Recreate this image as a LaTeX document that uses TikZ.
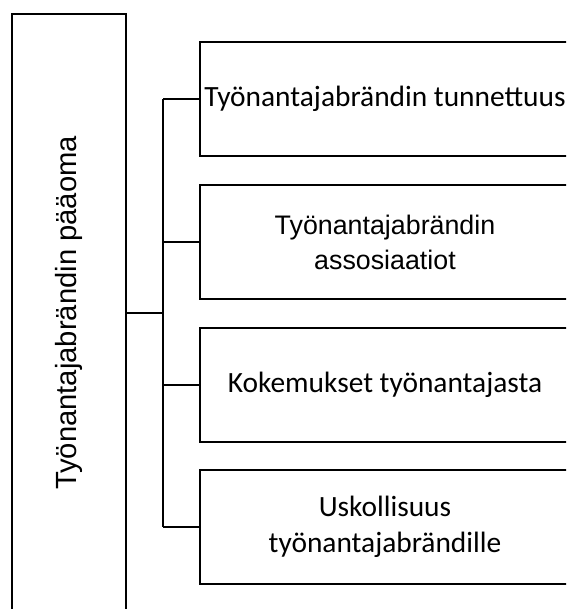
\documentclass[tikz,border=0pt]{standalone}
\usepackage{fontspec}
\setmainfont{Carlito}
\newfontfamily\arial{Liberation Sans}
\usepackage{tikz}

\tikzset{
  box/.style={draw, line width=1.9pt, minimum width=370pt, minimum height=114pt,
    inner sep=0pt, align=center},
  calibri/.style={font=\fontsize{29.4}{36.5}\selectfont},
  arialtxt/.style={font=\arial\fontsize{26.8}{35}\selectfont},
  link/.style={line width=1.9pt, color=black}
}

\begin{document}
\begin{tikzpicture}[x=1pt,y=-1pt]
%\draw[help lines] (0,0) grid (566,609);
\useasboundingbox (0,0) rectangle (566,609);
\clip (0,0) rectangle (566,609);

\node[draw, line width=1.9pt, minimum width=114pt, minimum height=598pt, inner sep=0pt,
  font=\arial\fontsize{29.2}{35}\selectfont] (paaoma) at (69,313)
  {\rotatebox{90}{Työnantajabrändin pääoma}};

\node[box, calibri] (tunnettuus) at (385,99) {Työnantajabrändin tunnettuus};
\node[box, arialtxt] (assosiaatiot) at (385,242) {Työnantajabrändin\\assosiaatiot};
\node[box, calibri] (kokemukset) at (385,385) {Kokemukset työnantajasta};
\node[box, calibri] (uskollisuus) at (385,527) {Uskollisuus\\työnantajabrändille};

\coordinate (bus) at (163,313);

\draw[link] (paaoma) -- (bus);
\draw[link] (bus |- tunnettuus) -- (bus |- uskollisuus);
\draw[link] (bus |- tunnettuus) -- (tunnettuus);
\draw[link] (bus |- assosiaatiot) -- (assosiaatiot);
\draw[link] (bus |- kokemukset) -- (kokemukset);
\draw[link] (bus |- uskollisuus) -- (uskollisuus);
\end{tikzpicture}
\end{document}
